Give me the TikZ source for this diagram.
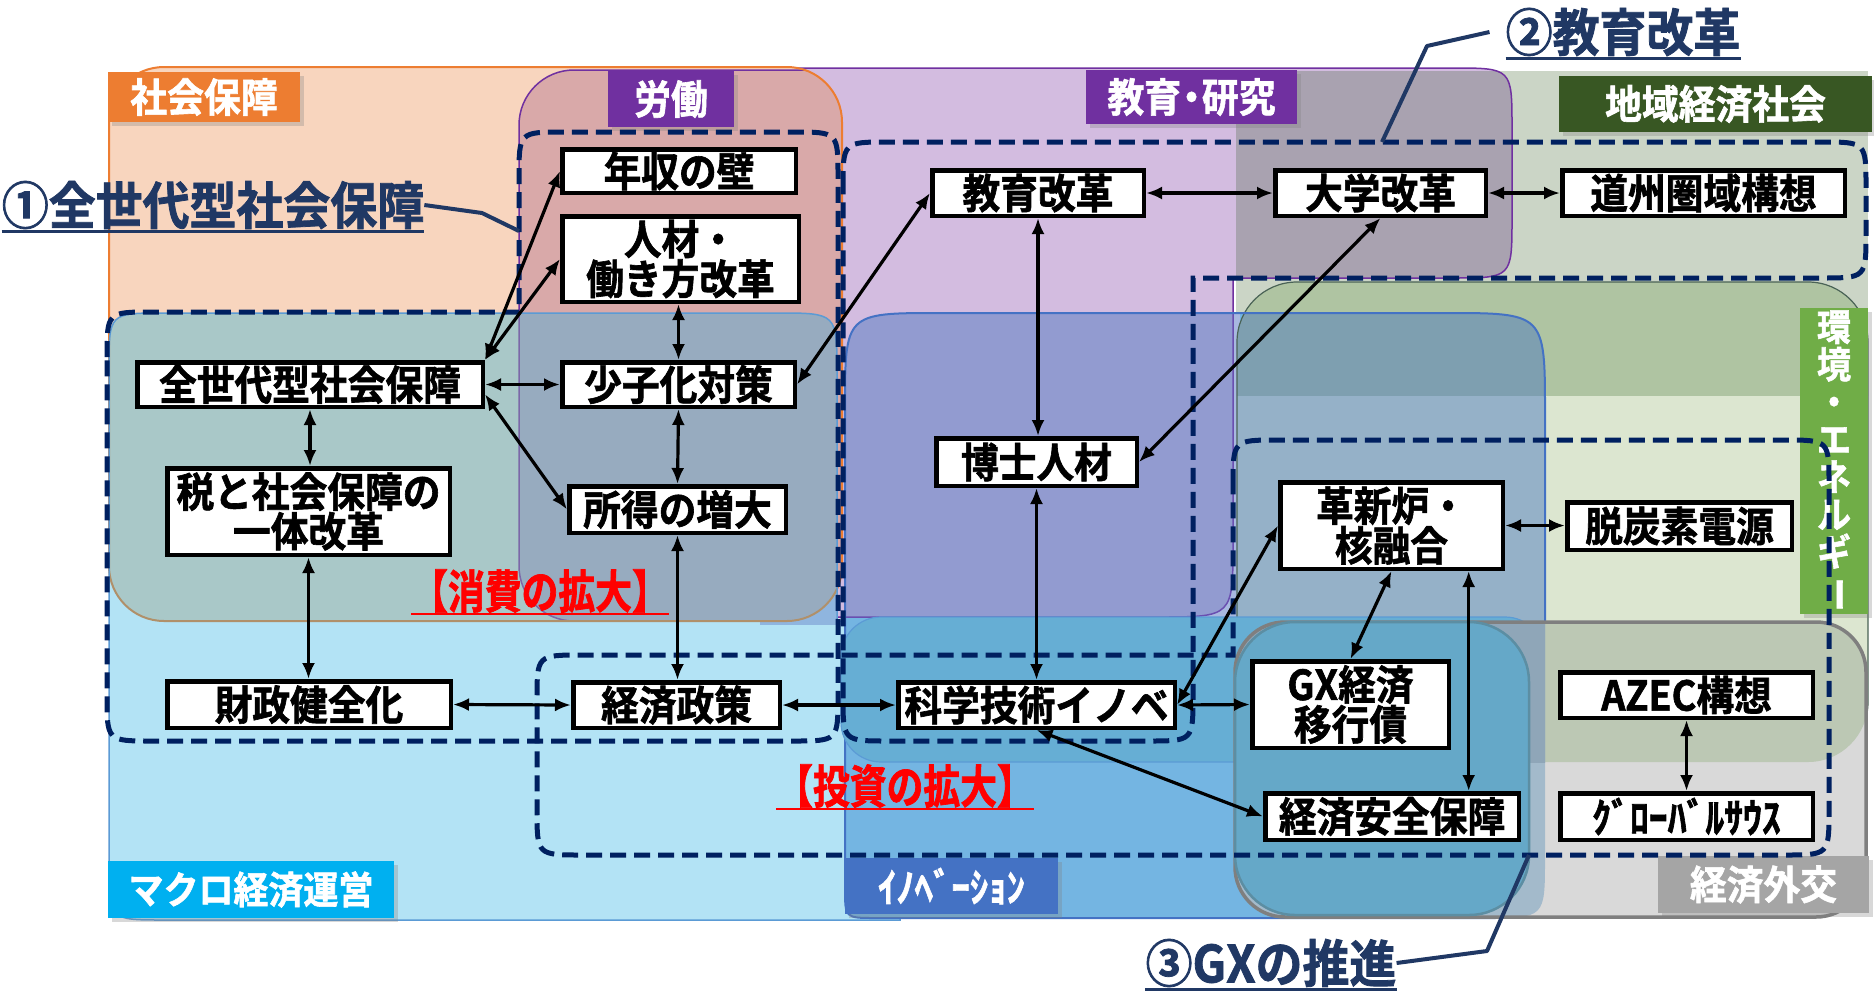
\documentclass[tikz,border=0pt]{standalone}
\usepackage{fontspec}
\newfontfamily\jpfont{Noto Sans CJK JP}[BoldFont={Noto Sans CJK JP Bold}, BoldFeatures={FakeBold=1.5}, FakeStretch=0.92]
\newfontfamily\jpnarrow{Noto Sans CJK JP}[BoldFont={Noto Sans CJK JP Bold}, BoldFeatures={FakeBold=1.5}, FakeStretch=0.8]
\usetikzlibrary{arrows.meta,calc,shadows}
\definecolor{cLav}{HTML}{D3BCE0}
\definecolor{cPurple}{HTML}{7030A0}
\definecolor{cSoc}{HTML}{F8D5BE}
\definecolor{cOrg}{HTML}{ED7D31}
\definecolor{cLab}{HTML}{D9A9A9}
\definecolor{cMac}{HTML}{B3E3F5}
\definecolor{cMacB}{HTML}{5B9BD5}
\definecolor{cCorner}{HTML}{8FB5DF}
\definecolor{cSocMac}{HTML}{A9C8C8}
\definecolor{cLabMac}{HTML}{97ABBF}
\definecolor{cLabB}{HTML}{7B68A8}
\definecolor{cTan}{HTML}{B0906A}
\definecolor{cChi}{HTML}{CBD5C6}
\definecolor{cLavChi}{HTML}{A9A2B0}
\definecolor{cGrn}{HTML}{DCE6D0}
\definecolor{cGrnChi}{HTML}{AFC4A2}
\definecolor{cGrnB}{HTML}{4A6356}
\definecolor{cInn}{HTML}{74B5E2}
\definecolor{cInnX}{HTML}{A8B8E0}
\definecolor{cInnLav}{HTML}{929BD0}
\definecolor{cInnLavB}{HTML}{6A4FB0}
\definecolor{cInnGrn}{HTML}{95B1C8}
\definecolor{cInnGrnChi}{HTML}{7E9FB0}
\definecolor{cInnB}{HTML}{4472C4}
\definecolor{cBand}{HTML}{66AED4}
\definecolor{cGry}{HTML}{D9D9D9}
\definecolor{cGryGrn}{HTML}{BCC8B4}
\definecolor{cGryInn}{HTML}{A3BACB}
\definecolor{cGryBand}{HTML}{8FA6B8}
\definecolor{cGryB}{HTML}{7F7F7F}
\definecolor{cTeal}{HTML}{65A8C8}
\definecolor{cTealB}{HTML}{5C8EA3}
\definecolor{cNavy}{HTML}{002060}
\definecolor{cNavyT}{HTML}{203864}
\definecolor{lOrg}{HTML}{ED7D31}
\definecolor{lPur}{HTML}{7030A0}
\definecolor{lDkG}{HTML}{385723}
\definecolor{lGrn}{HTML}{70AD47}
\definecolor{lCyan}{HTML}{00B0F0}
\definecolor{lBlue}{HTML}{4472C4}
\definecolor{lGry}{HTML}{A5A5A5}
\def\pEdu{(700,128) .. controls (700,68) .. (760,68) -- (1452,68) .. controls (1512,68) .. (1512,128) -- (1512,218) .. controls (1512,278) .. (1452,278) -- (1233,278) -- (1233,542) .. controls (1233,617) .. (1158,617) -- (760,617) .. controls (700,617) .. (700,557) -- cycle}
\def\pMac{(109,368) .. controls (109,313) .. (164,313) -- (777,313) .. controls (837,313) .. (837,373) -- (837,621) -- (900,621) -- (900,920) -- (164,920) .. controls (109,920) .. (109,865) -- cycle}
\def\pInn{(845,408) .. controls (845,313) .. (940,313) -- (1445,313) .. controls (1545,313) .. (1545,413) -- (1545,858) .. controls (1545,918) .. (1485,918) -- (875,918) .. controls (845,918) .. (845,888) -- cycle}
\def\pSoc{(109,67) rectangle (842,621)}
\def\pLab{(519,70) rectangle (900,621)}
\def\pChi{(1236,71) rectangle (1868,395)}
\def\pGrn{(1237,282) rectangle (1868,762)}
\def\pGry{(1235,622) rectangle (1866,917)}
\begin{document}
\begin{tikzpicture}[x=1pt,y=-1pt,
  box/.style={draw=black, line width=4.5pt, fill=white, inner sep=0pt, align=center, text=black,
    font=\jpfont\bfseries\fontsize{41pt}{38pt}\selectfont},
  lab/.style={inner sep=0pt, text=white, align=center,
    font=\jpfont\bfseries\fontsize{40pt}{38pt}\selectfont,
    drop shadow={shadow xshift=4pt, shadow yshift=-4pt, opacity=0.3}},
  biarrow/.style={line width=3.2pt, {Latex[length=16pt,width=13pt]}-{Latex[length=16pt,width=13pt]}},
  grp/.style={draw=cNavy, line width=5pt, dash pattern=on 16pt off 8pt},
  leader/.style={draw=cNavyT, line width=4pt, line join=round},
  calltext/.style={inner xsep=0pt, inner ysep=2pt, text=cNavyT, font=\jpfont\bfseries\fontsize{51pt}{51pt}\selectfont},
  redtext/.style={inner xsep=0pt, inner ysep=1pt, text=red, font=\jpnarrow\bfseries\fontsize{46pt}{46pt}\selectfont}
]
\useasboundingbox (0,0) rectangle (1874,994);
\fill[white] (0,0) rectangle (1874,994);

% ---- education / research (lavender)
\fill[cLav] \pEdu;
\draw[cPurple, line width=1.5pt] \pEdu;
% ---- social security (orange)
\fill[cSoc, rounded corners=55pt] \pSoc;
\begin{scope}
  \clip[rounded corners=55pt] \pSoc;
  \fill[cLab, rounded corners=55pt] \pLab;
  \draw[cPurple, line width=1.5pt, rounded corners=55pt] \pLab;
\end{scope}
\draw[cOrg, line width=2pt, rounded corners=55pt] \pSoc;
% ---- macro economy (light blue)
\fill[cMac] \pMac;
\begin{scope}
  \clip \pMac;
  \fill[cCorner] (760,500) rectangle (845,625);
  \fill[cSocMac, rounded corners=55pt] \pSoc;
  \begin{scope}
    \clip[rounded corners=55pt] \pSoc;
    \fill[cLabMac, rounded corners=55pt] \pLab;
    \draw[cLabB, line width=1.5pt, rounded corners=55pt] \pLab;
  \end{scope}
  \draw[cTan, line width=2pt, rounded corners=55pt] \pSoc;
\end{scope}
\draw[cMacB, line width=1.5pt] \pMac;
% ---- regional economy (grey green)
\fill[cChi] \pChi;
\begin{scope}
  \clip \pChi;
  \fill[cLavChi] \pEdu;
  \draw[cPurple, line width=1.5pt] \pEdu;
\end{scope}
% ---- environment / energy (green)
\fill[cGrn, rounded corners=60pt] \pGrn;
\begin{scope}
  \clip \pChi;
  \fill[cGrnChi, rounded corners=60pt] \pGrn;
\end{scope}
\draw[cGrnB, line width=1.2pt, rounded corners=60pt] \pGrn;
% ---- innovation (blue)
\fill[cInn] \pInn;
\begin{scope}
  \clip \pInn;
  \fill[cInnX] (845,313) rectangle (1240,617);
  \fill[cInnLav] \pEdu;
  \draw[cInnLavB, line width=1.5pt] \pEdu;
  \fill[cInnGrn, rounded corners=60pt] \pGrn;
  \begin{scope}
    \clip \pChi;
    \fill[cInnGrnChi, rounded corners=60pt] \pGrn;
  \end{scope}
  \draw[cGrnB, line width=1.2pt, rounded corners=60pt] \pGrn;
\end{scope}
\draw[cInnB, line width=2pt] \pInn;
% band
\fill[cBand, rounded corners=40pt] (841,617) rectangle (1545,762);
\draw[cMacB, line width=1.2pt, rounded corners=40pt] (841,617) rectangle (1545,762);
% ---- economic diplomacy (grey)
\fill[cGry, rounded corners=50pt] \pGry;
\begin{scope}
  \clip[rounded corners=50pt] \pGry;
  \fill[cGryGrn, rounded corners=60pt] \pGrn;
  \fill[cGryInn] \pInn;
  \begin{scope}
    \clip (841,617) rectangle (1545,762);
    \fill[cGryBand] \pInn;
  \end{scope}
\end{scope}
\draw[cGryB, line width=3.5pt, rounded corners=50pt] \pGry;
% teal
\fill[cTeal, rounded corners=60pt] (1235,622) rectangle (1529,915);
\draw[cTealB, line width=2.5pt, rounded corners=60pt] (1235,622) rectangle (1529,915);

% ---- region labels
\node[lab, fill=lOrg, minimum width=192pt, minimum height=50pt] (lSoc) at (204,97) {社会保障};
\node[lab, fill=lPur, minimum width=126pt, minimum height=56pt] (lLab) at (671,99) {労働};
\node[lab, fill=lPur, minimum width=211pt, minimum height=54pt] (lEdu) at (1191.5,97) {教育{\kern-8pt}・{\kern-8pt}研究};
\node[lab, fill=lDkG, minimum width=313pt, minimum height=56pt] (lChi) at (1715.5,104) {地域経済社会};
\node[lab, fill=lGrn, minimum width=68pt, minimum height=306pt,
  font=\jpfont\bfseries\fontsize{37pt}{37.5pt}\selectfont] (lEne) at (1834,461)
  {環\\境\\・\\エ\\ネ\\ル\\ギ\\\rotatebox[origin=c]{-90}{ー}};
\node[lab, fill=lCyan, minimum width=286pt, minimum height=57pt,
  font=\jpfont\bfseries\fontsize{38pt}{38pt}\selectfont] (lMac) at (251,889.5) {マクロ経済運営};
\node[lab, fill=lBlue, minimum width=213pt, minimum height=56pt] (lInn) at (951.5,886) {ｲﾉﾍﾞｰｼｮﾝ};
\node[lab, fill=lGry, minimum width=211pt, minimum height=57pt] (lDip) at (1763.5,884.5) {経済外交};

% ---- dashed groups
\draw[grp] (107,357) .. controls (107,312) .. (152,312) -- (519,312) -- (519,177) .. controls (519,132) .. (564,132) -- (793,132) .. controls (838,132) .. (838,177) -- (838,696) .. controls (838,741) .. (793,741) -- (152,741) .. controls (107,741) .. (107,696) -- cycle;
\draw[grp] (843,187) .. controls (843,142) .. (888,142) -- (1821,142) .. controls (1866,142) .. (1866,187) -- (1866,233) .. controls (1866,278) .. (1821,278) -- (1193,278) -- (1193,696) .. controls (1193,741) .. (1148,741) -- (888,741) .. controls (843,741) .. (843,696) -- cycle;
\draw[grp] (1233,485) .. controls (1233,440) .. (1278,440) -- (1784,440) .. controls (1829,440) .. (1829,485) -- (1829,810) .. controls (1829,855) .. (1784,855) -- (582,855) .. controls (537,855) .. (537,810) -- (537,700) .. controls (537,655) .. (582,655) -- (1233,655) -- cycle;

% ---- callouts
\node[calltext] (c1) at (213,205) {①全世代型社会保障};
\draw[cNavyT, line width=2.5pt] (c1.south west) -- (c1.south east);
\coordinate (c1b) at (482,213);
\coordinate (c1e) at (519,231);
\draw[leader] (c1.east) -- (c1b) -- (c1e);
\node[calltext] (c2) at (1623,32) {②教育改革};
\draw[cNavyT, line width=2.5pt] (c2.south west) -- (c2.south east);
\coordinate (c2b) at (1427,46);
\coordinate (c2e) at (1382,142);
\draw[leader] ([xshift=-16pt]c2.west) -- (c2b) -- (c2e);
\node[calltext] (c3) at (1271,963) {③GXの推進};
\draw[cNavyT, line width=2.5pt] (c3.south west) -- (c3.south east);
\coordinate (c3b) at (1487,951);
\coordinate (c3e) at (1529,855);
\draw[leader] (c3.east) -- (c3b) -- (c3e);

% ---- red labels
\node[redtext] (r1) at (540,591) {【消費の拡大】};
\draw[red, line width=2.5pt] (r1.south west) -- (r1.south east);
\node[redtext] (r2) at (905,786) {【投資の拡大】};
\draw[red, line width=2.5pt] (r2.south west) -- (r2.south east);

% ---- nodes
\node[box, minimum width=233.5pt, minimum height=43.5pt] (n1) at (679,171) {年収の壁};
\node[box, minimum width=236.5pt, minimum height=85.5pt] (n2) at (680.5,259) {人材・\\働き方改革};
\node[box, minimum width=345.5pt, minimum height=44.5pt] (n3) at (310,384.5) {全世代型社会保障};
\node[box, minimum width=232.5pt, minimum height=44.5pt] (n4) at (678.5,384.5) {少子化対策};
\node[box, minimum width=282.5pt, minimum height=86.5pt] (n5) at (308.5,511.5) {税と社会保障の\\一体改革};
\node[box, minimum width=216.5pt, minimum height=46.5pt] (n6) at (677.5,509.5) {所得の増大};
\node[box, minimum width=283.5pt, minimum height=46.5pt] (n7) at (309,704.5) {財政健全化};
\node[box, minimum width=206.5pt, minimum height=45.5pt] (n8) at (676.5,705) {経済政策};
\node[box, minimum width=276.5pt, minimum height=45.5pt] (n9) at (1036.5,705) {科学技術イノベ};
\node[box, minimum width=211.5pt, minimum height=45.5pt] (n10) at (1038,193) {教育改革};
\node[box, minimum width=210.5pt, minimum height=45.5pt] (n11) at (1380.5,193) {大学改革};
\node[box, minimum width=282.5pt, minimum height=45.5pt] (n12) at (1703.5,193) {道州圏域構想};
\node[box, minimum width=200.5pt, minimum height=47.5pt] (n13) at (1036.5,462) {博士人材};
\node[box, minimum width=222.5pt, minimum height=86.5pt] (n14) at (1391.5,525.5) {革新炉・\\核融合};
\node[box, minimum width=224.5pt, minimum height=47.5pt] (n15) at (1679.5,526) {脱炭素電源};
\node[box, minimum width=196.5pt, minimum height=86.5pt] (n16) at (1350.5,704.5) {GX経済\\移行債};
\node[box, minimum width=252.5pt, minimum height=45.5pt] (n17) at (1686.5,695) {AZEC構想};
\node[box, minimum width=253.5pt, minimum height=46.5pt] (n18) at (1392,816.5) {経済安全保障};
\node[box, minimum width=252.5pt, minimum height=46.5pt] (n19) at (1686.5,816.5) {ｸﾞﾛｰﾊﾞﾙｻｳｽ};

% ---- connectors
\draw[biarrow] (n3.north east) -- (n1.west);
\draw[biarrow] (n3.north east) -- (n2.west);
\draw[biarrow] (n3.east) -- (n4.west);
\draw[biarrow] ($(n3.east)!0.4!(n3.south east)$) -- (n6.west);
\draw[biarrow] (n4.north |- n2.south) -- (n4.north);
\draw[biarrow] (n4.south) -- (n6.north);
\draw[biarrow] (n6.south) -- (n6.south |- n8.north);
\draw[biarrow] (n3.south) -- (n3.south |- n5.north);
\draw[biarrow] (n5.south) -- (n5.south |- n7.north);
\draw[biarrow] (n7.east) -- (n8.west);
\draw[biarrow] (n8.east) -- (n9.west);
\draw[biarrow] (n4.east) -- (n10.west);
\draw[biarrow] (n10.east) -- (n11.west);
\draw[biarrow] (n11.east) -- (n12.west);
\draw[biarrow] (n10.south) -- (n10.south |- n13.north);
\draw[biarrow] (n11.south) -- (n13.east);
\draw[biarrow] (n13.south) -- (n13.south |- n9.north);
\draw[biarrow] (n9.east) -- (n14.west);
\draw[biarrow] (n9.east) -- (n16.west);
\draw[biarrow] (n9.south) -- (n18.west);
\draw[biarrow] (n14.east) -- (n14.east -| n15.west);
\draw[biarrow] (n14.south) -- (n16.north);
\coordinate (t14) at ($(n14.south west)!0.84!(n14.south east)$);
\draw[biarrow] (t14) -- (t14 |- n18.north);
\draw[biarrow] (n17.south) -- (n19.north);
\end{tikzpicture}
\end{document}
